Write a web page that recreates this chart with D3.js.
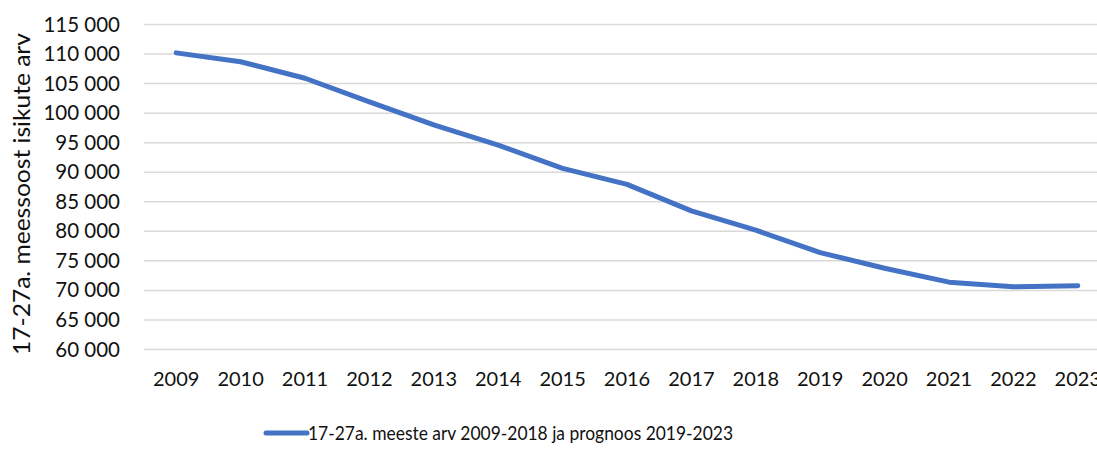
<!DOCTYPE html>
<html>
<head>
<meta charset="utf-8">
<script src="https://cdn.jsdelivr.net/npm/d3@7"></script>
<style>
  body { margin: 0; background: #fff; }
  svg { display: block; font-family: Lato, "Open Sans", sans-serif; }
</style>
</head>
<body>
<div id="chart"></div>
<script>
var years = ["2009","2010","2011","2012","2013","2014","2015","2016","2017","2018","2019","2020","2021","2022","2023"];
var men = [110200, 108700, 105900, 101900, 98000, 94600, 90650, 87950, 83450, 80200, 76400, 73750, 71400, 70600, 70800];
var yTicks = [60000, 65000, 70000, 75000, 80000, 85000, 90000, 95000, 100000, 105000, 110000, 115000];
var seriesName = "17-27a. meeste arv 2009-2018 ja prognoos 2019-2023";
var yTitle = "17-27a. meessoost isikute arv";

var W = 1097, H = 453;
var margin = {top: 24.5, right: -13, bottom: 103.5, left: 144};
var width = W - margin.left - margin.right,
    height = H - margin.top - margin.bottom;

var svg = d3.select("#chart").append("svg")
  .attr("width", W).attr("height", H);

var g = svg.append("g")
  .attr("transform", "translate(" + margin.left + "," + margin.top + ")");

var x = d3.scaleBand().domain(years).range([0, width]);
var y = d3.scaleLinear().domain([60000, 115000]).range([height, 0]);

var fmt = function(d) { return d3.format(",")(d).replace(/,/g, " "); };

// gridlines
g.append("g")
  .selectAll("line")
  .data(yTicks)
  .enter().append("line")
    .attr("x1", 0).attr("x2", width)
    .attr("y1", function(d) { return y(d); })
    .attr("y2", function(d) { return y(d); })
    .attr("stroke", "#d9d9d9")
    .attr("stroke-width", 1.5);

// y axis labels
var yAxis = g.append("g")
  .call(d3.axisLeft(y).tickValues(yTicks).tickFormat(fmt).tickSize(0).tickPadding(24));
yAxis.select(".domain").remove();
yAxis.selectAll("text").attr("font-size", 20.5).attr("fill", "#111").attr("font-family", "Lato, sans-serif");

// x axis labels
var xAxis = g.append("g")
  .attr("transform", "translate(0," + height + ")")
  .call(d3.axisBottom(x).tickSize(0).tickPadding(22));
xAxis.select(".domain").remove();
xAxis.selectAll("text").attr("font-size", 20).attr("fill", "#111").attr("font-family", "Lato, sans-serif");

// line
var line = d3.line()
  .x(function(d, i) { return x(years[i]) + x.bandwidth() / 2; })
  .y(function(d) { return y(d); });

g.append("path")
  .datum(men)
  .attr("fill", "none")
  .attr("stroke", "#4472c4")
  .attr("stroke-width", 5)
  .attr("stroke-linecap", "round")
  .attr("stroke-linejoin", "round")
  .attr("d", line);

// y title
svg.append("text")
  .attr("transform", "translate(30,194) rotate(-90)")
  .attr("text-anchor", "middle")
  .attr("font-size", 24)
  .attr("fill", "#111")
  .attr("textLength", 322)
  .attr("lengthAdjust", "spacingAndGlyphs")
  .text(yTitle);

// legend
var lg = svg.append("g").attr("transform", "translate(266,433)");
lg.append("line")
  .attr("x1", 0).attr("x2", 41).attr("y1", 0).attr("y2", 0)
  .attr("stroke", "#4472c4").attr("stroke-width", 5).attr("stroke-linecap", "round");
lg.append("text")
  .attr("x", 42).attr("y", 7)
  .attr("font-size", 20)
  .attr("fill", "#111")
  .attr("textLength", 425)
  .attr("lengthAdjust", "spacingAndGlyphs")
  .text(seriesName);
</script>
</body>
</html>
